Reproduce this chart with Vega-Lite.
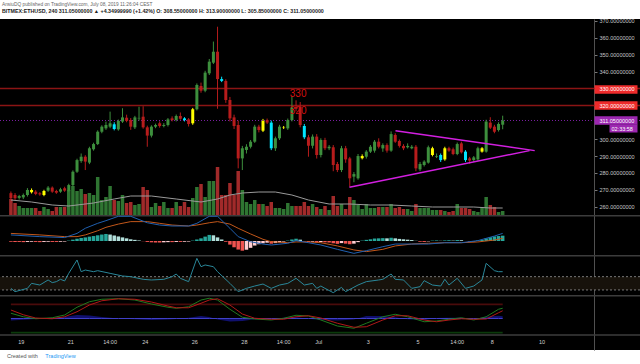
{
"$schema":"https://vega.github.io/schema/vega-lite/v6.json",
"width":640,"height":331,
"autosize":{"type":"none"},
"padding":{"top":19,"bottom":14,"left":0,"right":0},
"background":"#ffffff",
"config":{"view":{"fill":"#000000","stroke":null},"font":"Liberation Sans","axis":{"labelFont":"Liberation Sans","titleFont":"Liberation Sans"}},
"title":{"text":"AnsiuDQ published on TradingView.com, July 08, 2019 11:26:04 CEST","subtitle":"BITMEX:ETHUSD, 240  311.05000000 ▲ +4.34999990 (+1.42%)  O: 308.55000000  H: 313.90000000  L: 305.85000000  C: 311.05000000","anchor":"start","frame":"group","fontSize":4.8,"fontWeight":"normal","color":"#666666","subtitleFontSize":5.3,"subtitleFontWeight":"bold","subtitleColor":"#222222","subtitlePadding":1.5,"offset":5,"dx":2},
"datasets":{
"k":[
{"t":"2019-06-18T14:00","o":268.0,"h":269.0,"l":264.0,"c":265.0,"v":16,"mh":-0.4},
{"t":"2019-06-18T18:00","o":266.9,"h":268.0,"l":264.0,"c":265.0,"v":12,"mh":-0.5},
{"t":"2019-06-18T22:00","o":265.2,"h":267.0,"l":264.2,"c":266.3,"v":9,"mh":-0.5},
{"t":"2019-06-19T02:00","o":265.5,"h":267.8,"l":264.5,"c":266.9,"v":7,"mh":-0.6},
{"t":"2019-06-19T06:00","o":266.9,"h":271.0,"l":266.0,"c":269.9,"v":7,"mh":-0.5},
{"t":"2019-06-19T10:00","o":268.5,"h":270.8,"l":267.8,"c":269.9,"v":7,"mh":-0.4,"f":"Y"},
{"t":"2019-06-19T14:00","o":268.9,"h":269.8,"l":266.8,"c":267.5,"v":7,"mh":-0.5},
{"t":"2019-06-19T18:00","o":267.9,"h":268.6,"l":266.5,"c":267.3,"v":4,"mh":-0.6},
{"t":"2019-06-19T22:00","o":266.9,"h":270.0,"l":266.2,"c":269.3,"v":8,"mh":-0.5,"f":"Y"},
{"t":"2019-06-20T02:00","o":269.5,"h":272.2,"l":268.8,"c":271.3,"v":6,"mh":-0.4},
{"t":"2019-06-20T06:00","o":271.3,"h":272.0,"l":268.2,"c":268.9,"v":4,"mh":-0.5},
{"t":"2019-06-20T10:00","o":269.3,"h":270.0,"l":267.6,"c":268.3,"v":8,"mh":-0.5},
{"t":"2019-06-20T14:00","o":268.9,"h":271.2,"l":268.2,"c":270.3,"v":8,"mh":-0.4},
{"t":"2019-06-20T18:00","o":270.9,"h":271.8,"l":268.8,"c":269.5,"v":8,"mh":-0.3},
{"t":"2019-06-20T22:00","o":269.5,"h":273.6,"l":268.9,"c":272.8,"v":25,"mh":0.2},
{"t":"2019-06-21T02:00","o":272.8,"h":281.5,"l":272.0,"c":280.7,"v":29,"mh":0.7},
{"t":"2019-06-21T06:00","o":280.7,"h":288.4,"l":280.0,"c":287.6,"v":24,"mh":1.2},
{"t":"2019-06-21T10:00","o":287.0,"h":291.5,"l":286.0,"c":289.6,"v":26,"mh":1.6},
{"t":"2019-06-21T14:00","o":289.6,"h":290.5,"l":281.7,"c":286.7,"v":21,"mh":1.9},
{"t":"2019-06-21T18:00","o":286.1,"h":295.5,"l":285.2,"c":294.6,"v":22,"mh":2.3},
{"t":"2019-06-21T22:00","o":294.0,"h":297.9,"l":293.2,"c":297.1,"v":20,"mh":2.6},
{"t":"2019-06-22T02:00","o":297.1,"h":305.2,"l":296.5,"c":304.4,"v":38,"mh":3.0},
{"t":"2019-06-22T06:00","o":304.4,"h":308.2,"l":303.5,"c":307.4,"v":15,"mh":3.4},
{"t":"2019-06-22T10:00","o":306.4,"h":310.4,"l":305.5,"c":308.4,"v":18,"mh":3.7},
{"t":"2019-06-22T14:00","o":307.4,"h":316.3,"l":306.5,"c":309.4,"v":29,"mh":3.4},
{"t":"2019-06-22T18:00","o":308.8,"h":310.0,"l":305.2,"c":306.0,"v":15,"mh":2.9,"f":"C"},
{"t":"2019-06-22T22:00","o":305.8,"h":311.6,"l":305.0,"c":310.8,"v":14,"mh":2.4},
{"t":"2019-06-23T02:00","o":310.4,"h":318.3,"l":309.6,"c":312.9,"v":20,"mh":1.9},
{"t":"2019-06-23T06:00","o":312.7,"h":314.5,"l":310.0,"c":310.8,"v":12,"mh":1.4},
{"t":"2019-06-23T10:00","o":311.3,"h":312.5,"l":305.5,"c":307.4,"v":13,"mh":0.9},
{"t":"2019-06-23T14:00","o":307.0,"h":313.8,"l":306.0,"c":312.9,"v":10,"mh":0.6},
{"t":"2019-06-23T18:00","o":312.3,"h":319.2,"l":311.0,"c":312.6,"v":11,"mh":0.3},
{"t":"2019-06-23T22:00","o":313.3,"h":319.5,"l":306.2,"c":307.0,"v":28,"mh":-0.1},
{"t":"2019-06-24T02:00","o":307.0,"h":308.0,"l":295.5,"c":302.1,"v":25,"mh":-0.5},
{"t":"2019-06-24T06:00","o":302.1,"h":308.2,"l":301.0,"c":307.4,"v":8,"mh":-0.7},
{"t":"2019-06-24T10:00","o":307.4,"h":309.2,"l":306.5,"c":308.4,"v":12,"mh":-0.8},
{"t":"2019-06-24T14:00","o":309.4,"h":310.5,"l":306.8,"c":307.8,"v":9,"mh":-0.8},
{"t":"2019-06-24T18:00","o":307.8,"h":309.5,"l":307.0,"c":308.4,"v":13,"mh":-0.7},
{"t":"2019-06-24T22:00","o":308.4,"h":312.5,"l":307.5,"c":311.7,"v":7,"mh":-0.6},
{"t":"2019-06-25T02:00","o":312.3,"h":313.5,"l":310.5,"c":311.3,"v":7,"mh":-0.6},
{"t":"2019-06-25T06:00","o":311.3,"h":314.6,"l":310.5,"c":313.7,"v":13,"mh":-0.5},
{"t":"2019-06-25T10:00","o":313.7,"h":315.8,"l":311.5,"c":312.1,"v":9,"mh":-0.5},
{"t":"2019-06-25T14:00","o":312.3,"h":313.0,"l":310.5,"c":311.3,"v":13,"mh":-0.4,"f":"C"},
{"t":"2019-06-25T18:00","o":311.7,"h":312.5,"l":307.5,"c":309.0,"v":8,"mh":-0.3},
{"t":"2019-06-25T22:00","o":309.4,"h":318.5,"l":308.5,"c":317.7,"v":17,"mh":0.2,"f":"Y"},
{"t":"2019-06-26T02:00","o":317.7,"h":333.0,"l":317.0,"c":332.1,"v":28,"mh":0.8},
{"t":"2019-06-26T06:00","o":331.5,"h":333.5,"l":327.5,"c":328.7,"v":31,"mh":1.4},
{"t":"2019-06-26T10:00","o":328.7,"h":340.5,"l":327.8,"c":339.4,"v":18,"mh":2.3},
{"t":"2019-06-26T14:00","o":339.0,"h":347.5,"l":338.0,"c":345.9,"v":34,"mh":3.2},
{"t":"2019-06-26T18:00","o":345.3,"h":357.8,"l":344.5,"c":351.8,"v":34,"mh":3.0},
{"t":"2019-06-26T22:00","o":351.8,"h":366.6,"l":318.0,"c":335.6,"v":48,"mh":1.9},
{"t":"2019-06-27T02:00","o":335.6,"h":337.0,"l":333.8,"c":334.5,"v":20,"mh":0.8,"f":"C"},
{"t":"2019-06-27T06:00","o":334.5,"h":335.5,"l":321.5,"c":323.2,"v":20,"mh":-0.4},
{"t":"2019-06-27T10:00","o":323.2,"h":325.0,"l":310.5,"c":312.3,"v":32,"mh":-1.9},
{"t":"2019-06-27T14:00","o":312.9,"h":314.5,"l":306.0,"c":307.8,"v":20,"mh":-3.3},
{"t":"2019-06-27T18:00","o":308.4,"h":311.0,"l":282.7,"c":288.6,"v":44,"mh":-4.5},
{"t":"2019-06-27T22:00","o":288.6,"h":296.0,"l":281.7,"c":294.6,"v":25,"mh":-5.1},
{"t":"2019-06-28T02:00","o":293.6,"h":297.0,"l":291.5,"c":295.5,"v":13,"mh":-4.6},
{"t":"2019-06-28T06:00","o":295.5,"h":299.5,"l":294.5,"c":298.5,"v":11,"mh":-3.6},
{"t":"2019-06-28T10:00","o":298.5,"h":308.5,"l":297.8,"c":307.4,"v":15,"mh":-2.4},
{"t":"2019-06-28T14:00","o":307.4,"h":308.5,"l":304.0,"c":305.4,"v":11,"mh":-1.7},
{"t":"2019-06-28T18:00","o":305.0,"h":312.0,"l":304.2,"c":310.8,"v":11,"mh":-1.2,"f":"Y"},
{"t":"2019-06-28T22:00","o":311.3,"h":312.2,"l":309.0,"c":309.8,"v":9,"mh":-0.9},
{"t":"2019-06-29T02:00","o":309.8,"h":311.0,"l":293.5,"c":294.6,"v":13,"mh":-1.4,"f":"C"},
{"t":"2019-06-29T06:00","o":294.6,"h":301.5,"l":293.0,"c":300.5,"v":7,"mh":-1.1},
{"t":"2019-06-29T10:00","o":300.5,"h":308.5,"l":299.5,"c":307.4,"v":7,"mh":-0.7},
{"t":"2019-06-29T14:00","o":306.8,"h":307.8,"l":306.0,"c":307.0,"v":6,"mh":-0.3,"f":"Y"},
{"t":"2019-06-29T18:00","o":306.4,"h":312.2,"l":305.5,"c":311.3,"v":12,"mh":0.2},
{"t":"2019-06-29T22:00","o":311.3,"h":325.2,"l":310.5,"c":318.7,"v":9,"mh":0.8},
{"t":"2019-06-30T02:00","o":319.0,"h":323.0,"l":316.5,"c":318.0,"v":9,"mh":1.2},
{"t":"2019-06-30T06:00","o":319.3,"h":322.0,"l":307.0,"c":308.4,"v":9,"mh":0.7},
{"t":"2019-06-30T10:00","o":307.8,"h":309.0,"l":300.0,"c":301.1,"v":13,"mh":-0.2,"f":"C"},
{"t":"2019-06-30T14:00","o":301.1,"h":302.5,"l":289.6,"c":296.1,"v":9,"mh":-0.5},
{"t":"2019-06-30T18:00","o":296.1,"h":302.8,"l":294.5,"c":301.5,"v":11,"mh":-0.4},
{"t":"2019-06-30T22:00","o":301.5,"h":303.0,"l":288.5,"c":290.6,"v":8,"mh":-0.8},
{"t":"2019-07-01T02:00","o":290.6,"h":300.5,"l":289.2,"c":299.5,"v":6,"mh":-0.6},
{"t":"2019-07-01T06:00","o":299.5,"h":300.8,"l":293.5,"c":294.6,"v":9,"mh":-0.7},
{"t":"2019-07-01T10:00","o":294.6,"h":296.5,"l":293.5,"c":295.5,"v":5,"mh":-0.8},
{"t":"2019-07-01T14:00","o":295.2,"h":296.5,"l":281.0,"c":284.7,"v":19,"mh":-1.2},
{"t":"2019-07-01T18:00","o":285.3,"h":286.5,"l":280.5,"c":281.7,"v":9,"mh":-1.5},
{"t":"2019-07-01T22:00","o":281.7,"h":296.0,"l":280.5,"c":294.6,"v":11,"mh":-1.1},
{"t":"2019-07-02T02:00","o":294.6,"h":296.0,"l":286.0,"c":288.0,"v":6,"mh":-1.4},
{"t":"2019-07-02T06:00","o":288.6,"h":289.5,"l":271.8,"c":276.8,"v":18,"mh":-1.7},
{"t":"2019-07-02T10:00","o":277.8,"h":280.5,"l":274.5,"c":279.3,"v":15,"mh":-1.4},
{"t":"2019-07-02T14:00","o":276.8,"h":291.2,"l":276.0,"c":290.0,"v":10,"mh":-0.6},
{"t":"2019-07-02T18:00","o":288.7,"h":291.0,"l":288.0,"c":290.0,"v":6,"mh":0.2,"f":"Y"},
{"t":"2019-07-02T22:00","o":289.6,"h":293.5,"l":288.5,"c":292.6,"v":11,"mh":0.6},
{"t":"2019-07-03T02:00","o":292.6,"h":296.5,"l":291.8,"c":295.5,"v":7,"mh":0.9},
{"t":"2019-07-03T06:00","o":293.2,"h":299.5,"l":292.0,"c":298.5,"v":7,"mh":1.3},
{"t":"2019-07-03T10:00","o":298.5,"h":300.5,"l":294.5,"c":295.5,"v":8,"mh":1.4},
{"t":"2019-07-03T14:00","o":294.5,"h":297.5,"l":292.5,"c":296.5,"v":8,"mh":1.5},
{"t":"2019-07-03T18:00","o":296.5,"h":297.5,"l":292.0,"c":293.2,"v":8,"mh":1.4},
{"t":"2019-07-03T22:00","o":293.2,"h":304.6,"l":292.5,"c":303.0,"v":11,"mh":1.7},
{"t":"2019-07-04T02:00","o":302.5,"h":303.5,"l":297.8,"c":298.5,"v":7,"mh":1.4},
{"t":"2019-07-04T06:00","o":298.9,"h":299.8,"l":295.0,"c":296.0,"v":8,"mh":1.1},
{"t":"2019-07-04T10:00","o":296.0,"h":297.0,"l":293.5,"c":294.6,"v":6,"mh":0.9},
{"t":"2019-07-04T14:00","o":295.2,"h":297.5,"l":294.5,"c":296.0,"v":6,"mh":0.7},
{"t":"2019-07-04T18:00","o":294.6,"h":296.5,"l":294.0,"c":295.5,"v":4,"mh":0.5},
{"t":"2019-07-04T22:00","o":295.5,"h":296.5,"l":281.0,"c":282.7,"v":11,"mh":0.1},
{"t":"2019-07-05T02:00","o":282.1,"h":286.5,"l":281.0,"c":285.3,"v":7,"mh":-0.4},
{"t":"2019-07-05T06:00","o":284.7,"h":287.5,"l":283.8,"c":286.7,"v":7,"mh":-0.5},
{"t":"2019-07-05T10:00","o":286.1,"h":296.2,"l":285.5,"c":295.2,"v":7,"mh":-0.2},
{"t":"2019-07-05T14:00","o":290.6,"h":295.5,"l":289.8,"c":294.6,"v":5,"mh":0.2,"f":"Y"},
{"t":"2019-07-05T18:00","o":289.6,"h":291.5,"l":288.8,"c":290.0,"v":5,"mh":0.3},
{"t":"2019-07-05T22:00","o":290.6,"h":291.5,"l":286.5,"c":287.6,"v":5,"mh":0.1,"f":"C"},
{"t":"2019-07-06T02:00","o":288.0,"h":295.5,"l":287.2,"c":294.6,"v":4,"mh":0.3,"f":"Y"},
{"t":"2019-07-06T06:00","o":294.6,"h":295.5,"l":292.5,"c":293.2,"v":3,"mh":0.4},
{"t":"2019-07-06T10:00","o":294.0,"h":295.0,"l":290.5,"c":291.2,"v":4,"mh":0.2},
{"t":"2019-07-06T14:00","o":291.2,"h":298.0,"l":290.5,"c":297.1,"v":11,"mh":0.5},
{"t":"2019-07-06T18:00","o":297.5,"h":298.5,"l":291.5,"c":292.2,"v":7,"mh":0.4},
{"t":"2019-07-06T22:00","o":292.6,"h":293.5,"l":286.5,"c":287.6,"v":7,"mh":0.0,"f":"C"},
{"t":"2019-07-07T02:00","o":288.6,"h":289.5,"l":285.5,"c":287.3,"v":6,"mh":-0.3},
{"t":"2019-07-07T06:00","o":287.6,"h":290.0,"l":286.5,"c":289.2,"v":4,"mh":-0.2},
{"t":"2019-07-07T10:00","o":288.0,"h":295.5,"l":287.2,"c":294.6,"v":3,"mh":0.3},
{"t":"2019-07-07T14:00","o":292.6,"h":295.3,"l":292.0,"c":294.6,"v":8,"mh":0.6,"f":"Y"},
{"t":"2019-07-07T18:00","o":292.6,"h":311.5,"l":292.0,"c":310.4,"v":18,"mh":1.4},
{"t":"2019-07-07T22:00","o":309.8,"h":313.0,"l":306.0,"c":306.8,"v":10,"mh":2.0},
{"t":"2019-07-08T02:00","o":307.4,"h":308.5,"l":303.5,"c":304.4,"v":8,"mh":2.4},
{"t":"2019-07-08T06:00","o":305.4,"h":310.0,"l":304.5,"c":309.0,"v":3,"mh":2.6},
{"t":"2019-07-08T10:00","o":308.55,"h":313.9,"l":305.85,"c":311.05,"v":4,"mh":2.8}
],
"vma":[{"t":"2019-06-18T14:00","v":15},{"t":"2019-06-19T10:00","v":13},{"t":"2019-06-20T06:00","v":10},{"t":"2019-06-20T22:00","v":9},{"t":"2019-06-21T22:00","v":12},{"t":"2019-06-22T18:00","v":16},{"t":"2019-06-23T10:00","v":19},{"t":"2019-06-24T06:00","v":19},{"t":"2019-06-25T06:00","v":16},{"t":"2019-06-26T06:00","v":13},{"t":"2019-06-26T22:00","v":16},{"t":"2019-06-27T10:00","v":20},{"t":"2019-06-27T22:00","v":22},{"t":"2019-06-28T14:00","v":23},{"t":"2019-06-29T06:00","v":23},{"t":"2019-06-29T22:00","v":20},{"t":"2019-06-30T14:00","v":15},{"t":"2019-07-01T10:00","v":11},{"t":"2019-07-02T06:00","v":11},{"t":"2019-07-03T02:00","v":10},{"t":"2019-07-03T22:00","v":10},{"t":"2019-07-04T18:00","v":9},{"t":"2019-07-05T14:00","v":8},{"t":"2019-07-06T10:00","v":8},{"t":"2019-07-07T06:00","v":8},{"t":"2019-07-07T22:00","v":7},{"t":"2019-07-08T10:00","v":7}],
"macd":[{"t":"2019-06-18T14:00","m":3.2,"s":4.0},{"t":"2019-06-19T18:00","m":2.3,"s":3.2},{"t":"2019-06-20T18:00","m":1.8,"s":2.3},{"t":"2019-06-21T06:00","m":4.0,"s":2.3},{"t":"2019-06-21T14:00","m":6.7,"s":3.2},{"t":"2019-06-22T02:00","m":9.3,"s":5.4},{"t":"2019-06-22T10:00","m":10.7,"s":7.2},{"t":"2019-06-22T22:00","m":13.0,"s":8.9},{"t":"2019-06-23T10:00","m":13.0,"s":10.2},{"t":"2019-06-24T02:00","m":9.6,"s":10.2},{"t":"2019-06-24T14:00","m":8.4,"s":9.3},{"t":"2019-06-25T02:00","m":7.9,"s":8.4},{"t":"2019-06-25T18:00","m":7.9,"s":7.9},{"t":"2019-06-26T02:00","m":9.3,"s":8.4},{"t":"2019-06-26T14:00","m":13.0,"s":9.6},{"t":"2019-06-26T22:00","m":13.0,"s":10.2},{"t":"2019-06-27T10:00","m":6.7,"s":8.9},{"t":"2019-06-27T18:00","m":2.3,"s":6.7},{"t":"2019-06-28T06:00","m":-0.4,"s":3.7},{"t":"2019-06-28T18:00","m":-1.6,"s":0.9},{"t":"2019-06-29T02:00","m":-2.1,"s":-0.4},{"t":"2019-06-29T18:00","m":-1.2,"s":-0.9},{"t":"2019-06-30T02:00","m":0.2,"s":-0.5},{"t":"2019-06-30T14:00","m":-0.9,"s":-0.5},{"t":"2019-07-01T02:00","m":-2.1,"s":-0.9},{"t":"2019-07-01T18:00","m":-4.4,"s":-2.6},{"t":"2019-07-02T10:00","m":-6.5,"s":-4.7},{"t":"2019-07-02T22:00","m":-5.1,"s":-5.6},{"t":"2019-07-03T14:00","m":-3.0,"s":-4.4},{"t":"2019-07-04T02:00","m":-1.6,"s":-2.6},{"t":"2019-07-04T18:00","m":-1.6,"s":-1.6},{"t":"2019-07-05T10:00","m":-1.6,"s":-1.2},{"t":"2019-07-06T02:00","m":-0.9,"s":-0.9},{"t":"2019-07-06T18:00","m":-0.9,"s":-0.9},{"t":"2019-07-07T10:00","m":0.2,"s":-0.5},{"t":"2019-07-08T02:00","m":2.6,"s":0.5},{"t":"2019-07-08T10:00","m":4.0,"s":1.4}],
"cci":[{"t":"2019-06-18T14:00","v":-76},{"t":"2019-06-18T18:00","v":-126},{"t":"2019-06-19T06:00","v":-76},{"t":"2019-06-19T10:00","v":-1},{"t":"2019-06-19T18:00","v":-26},{"t":"2019-06-20T02:00","v":50},{"t":"2019-06-20T06:00","v":10},{"t":"2019-06-20T10:00","v":25},{"t":"2019-06-20T14:00","v":60},{"t":"2019-06-20T18:00","v":35},{"t":"2019-06-20T22:00","v":150},{"t":"2019-06-21T06:00","v":351},{"t":"2019-06-21T10:00","v":175},{"t":"2019-06-21T14:00","v":200},{"t":"2019-06-21T22:00","v":175},{"t":"2019-06-22T02:00","v":190},{"t":"2019-06-22T14:00","v":150},{"t":"2019-06-23T02:00","v":110},{"t":"2019-06-23T10:00","v":100},{"t":"2019-06-23T22:00","v":60},{"t":"2019-06-24T06:00","v":50},{"t":"2019-06-24T18:00","v":60},{"t":"2019-06-25T02:00","v":100},{"t":"2019-06-25T06:00","v":140},{"t":"2019-06-25T10:00","v":75},{"t":"2019-06-25T18:00","v":25},{"t":"2019-06-26T02:00","v":376},{"t":"2019-06-26T06:00","v":250},{"t":"2019-06-26T10:00","v":276},{"t":"2019-06-26T18:00","v":250},{"t":"2019-06-26T22:00","v":175},{"t":"2019-06-27T10:00","v":-1},{"t":"2019-06-27T18:00","v":-126},{"t":"2019-06-28T02:00","v":-76},{"t":"2019-06-28T10:00","v":-41},{"t":"2019-06-28T18:00","v":-11},{"t":"2019-06-29T02:00","v":-76},{"t":"2019-06-29T10:00","v":-26},{"t":"2019-06-29T18:00","v":-1},{"t":"2019-06-30T02:00","v":75},{"t":"2019-06-30T10:00","v":-26},{"t":"2019-06-30T18:00","v":-1},{"t":"2019-06-30T22:00","v":-76},{"t":"2019-07-01T02:00","v":-41},{"t":"2019-07-01T06:00","v":-76},{"t":"2019-07-01T14:00","v":-141},{"t":"2019-07-01T22:00","v":-61},{"t":"2019-07-02T02:00","v":-126},{"t":"2019-07-02T14:00","v":-26},{"t":"2019-07-02T22:00","v":25},{"t":"2019-07-03T10:00","v":50},{"t":"2019-07-03T14:00","v":60},{"t":"2019-07-03T22:00","v":140},{"t":"2019-07-04T02:00","v":60},{"t":"2019-07-04T10:00","v":50},{"t":"2019-07-04T18:00","v":-76},{"t":"2019-07-05T02:00","v":-51},{"t":"2019-07-05T06:00","v":40},{"t":"2019-07-05T14:00","v":-26},{"t":"2019-07-05T22:00","v":-41},{"t":"2019-07-06T02:00","v":60},{"t":"2019-07-06T06:00","v":-26},{"t":"2019-07-06T14:00","v":75},{"t":"2019-07-06T22:00","v":-76},{"t":"2019-07-07T06:00","v":-41},{"t":"2019-07-07T14:00","v":50},{"t":"2019-07-07T18:00","v":301},{"t":"2019-07-08T02:00","v":190},{"t":"2019-07-08T06:00","v":175},{"t":"2019-07-08T10:00","v":175}],
"wt":[{"t":"2019-06-18T14:00","w1":21,"w2":34,"d":-8},{"t":"2019-06-19T02:00","w1":7,"w2":15,"d":-5},{"t":"2019-06-19T14:00","w1":-1,"w2":2,"d":-2},{"t":"2019-06-20T06:00","w1":3,"w2":-1,"d":2},{"t":"2019-06-20T18:00","w1":14,"w2":7,"d":6},{"t":"2019-06-21T06:00","w1":45,"w2":27,"d":14},{"t":"2019-06-21T18:00","w1":67,"w2":54,"d":12},{"t":"2019-06-22T06:00","w1":77,"w2":71,"d":6},{"t":"2019-06-22T22:00","w1":79,"w2":79,"d":0},{"t":"2019-06-23T14:00","w1":74,"w2":77,"d":-3},{"t":"2019-06-24T06:00","w1":58,"w2":66,"d":-6},{"t":"2019-06-24T22:00","w1":45,"w2":50,"d":-4},{"t":"2019-06-25T06:00","w1":41,"w2":43,"d":-2},{"t":"2019-06-25T18:00","w1":47,"w2":43,"d":3},{"t":"2019-06-26T06:00","w1":74,"w2":61,"d":10},{"t":"2019-06-26T14:00","w1":81,"w2":74,"d":6},{"t":"2019-06-26T22:00","w1":74,"w2":79,"d":-4},{"t":"2019-06-27T10:00","w1":37,"w2":54,"d":-12},{"t":"2019-06-27T22:00","w1":5,"w2":18,"d":-10},{"t":"2019-06-28T10:00","w1":-2,"w2":1,"d":-3},{"t":"2019-06-29T02:00","w1":-6,"w2":-3,"d":-3},{"t":"2019-06-29T14:00","w1":1,"w2":-3,"d":3},{"t":"2019-06-30T02:00","w1":13,"w2":7,"d":5},{"t":"2019-06-30T14:00","w1":10,"w2":11,"d":-1},{"t":"2019-07-01T02:00","w1":-6,"w2":2,"d":-6},{"t":"2019-07-01T18:00","w1":-30,"w2":-19,"d":-8},{"t":"2019-07-02T10:00","w1":-39,"w2":-35,"d":-4},{"t":"2019-07-02T22:00","w1":-19,"w2":-33,"d":10},{"t":"2019-07-03T14:00","w1":7,"w2":-6,"d":10},{"t":"2019-07-04T02:00","w1":17,"w2":11,"d":5},{"t":"2019-07-04T14:00","w1":7,"w2":11,"d":-3},{"t":"2019-07-05T06:00","w1":-13,"w2":-6,"d":-6},{"t":"2019-07-05T18:00","w1":-10,"w2":-13,"d":2},{"t":"2019-07-06T06:00","w1":-3,"w2":-6,"d":3},{"t":"2019-07-06T18:00","w1":3,"w2":-1,"d":3},{"t":"2019-07-07T06:00","w1":-6,"w2":-3,"d":-2},{"t":"2019-07-07T18:00","w1":7,"w2":-2,"d":7},{"t":"2019-07-08T06:00","w1":37,"w2":23,"d":11},{"t":"2019-07-08T10:00","w1":41,"w2":31,"d":9}],
"lv":[{"p":330,"k":"r"},{"p":320,"k":"r"},{"p":311.05,"k":"l"}],
"lab":[{"p":330,"lab":"330","t":"2019-06-30T04:00"},{"p":320,"lab":"320","t":"2019-06-30T04:00"}],
"tri":[{"t":"2019-07-04T02:15","p":305.0,"s":"u"},{"t":"2019-07-09T17:00","p":293.2,"s":"u"},{"t":"2019-07-02T05:40","p":271.5,"s":"d"},{"t":"2019-07-09T12:00","p":293.2,"s":"d"}],
"ticks":[{"t":"2019-06-19T00:00","lab":"19"},{"t":"2019-06-21T00:00","lab":"21"},{"t":"2019-06-22T14:00","lab":"14:00"},{"t":"2019-06-24T00:00","lab":"24"},{"t":"2019-06-26T00:00","lab":"26"},{"t":"2019-06-28T00:00","lab":"28"},{"t":"2019-06-29T14:00","lab":"14:00"},{"t":"2019-07-01T00:00","lab":"Jul"},{"t":"2019-07-03T00:00","lab":"3"},{"t":"2019-07-05T00:00","lab":"5"},{"t":"2019-07-06T14:00","lab":"14:00"},{"t":"2019-07-08T00:00","lab":"8"},{"t":"2019-07-10T00:00","lab":"10"}],
"foot":[{"t":"2019-06-18T10:10","w":-150,"lab":"Created with","k":"a"},{"t":"2019-06-19T23:20","w":-150,"lab":"TradingView","k":"b"}]
},
"layer":[
{"layer":[
 {"data":{"name":"k"},"mark":{"type":"bar","width":3.5},"encoding":{"x":{"field":"t","type":"temporal","scale":{"domain":[{"year":2019,"month":"jun","date":18,"hours":8,"minutes":17},{"year":2019,"month":"jul","date":13,"hours":18,"minutes":4}],"nice":false},"axis":null},"y":{"field":"v","type":"quantitative","scale":{"domain":[-135,196],"nice":false,"zero":false},"axis":null},"color":{"condition":{"test":"datum.c>=datum.o","value":"#2f7532"},"value":"#a12a2a"}}},
 {"data":{"name":"vma"},"mark":{"type":"line","color":"#9a9a9a","strokeWidth":1},"encoding":{"x":{"field":"t","type":"temporal","scale":{"domain":[{"year":2019,"month":"jun","date":18,"hours":8,"minutes":17},{"year":2019,"month":"jul","date":13,"hours":18,"minutes":4}],"nice":false},"axis":null},"y":{"field":"v","type":"quantitative","scale":{"domain":[-135,196],"nice":false,"zero":false},"axis":null}}}
]},
{"layer":[
 {"data":{"name":"lv"},"mark":{"type":"rule"},"encoding":{"y":{"field":"p","type":"quantitative","scale":{"domain":[175.09,371.18],"nice":false,"zero":false},"axis":{"orient":"right","offset":-46,"values":[330,320,311.05],"format":".8f","ticks":true,"tickSize":43,"tickWidth":8.5,"tickCap":"butt","tickColor":{"condition":{"test":"datum.value<315","value":"#9c27b0"},"value":"#ee2b2b"},"labelPadding":-38,"labelColor":"#ffffff","labelFontSize":5.5,"labelBaseline":"middle","domain":false,"grid":false,"labelOverlap":false,"title":null,"zindex":1}},"color":{"condition":{"test":"datum.k==='l'","value":"#7b1fa2"},"value":"#8b1414"},"strokeDash":{"condition":{"test":"datum.k==='l'","value":[1,2]},"value":[1,0]},"strokeWidth":{"condition":{"test":"datum.k==='l'","value":1},"value":1.5}}},
 {"data":{"name":"k"},"mark":{"type":"rule","strokeWidth":1},"encoding":{"x":{"field":"t","type":"temporal","scale":{"domain":[{"year":2019,"month":"jun","date":18,"hours":8,"minutes":17},{"year":2019,"month":"jul","date":13,"hours":18,"minutes":4}],"nice":false},"axis":null},"y":{"field":"l","type":"quantitative","scale":{"domain":[175.09,371.18],"nice":false,"zero":false},"axis":null},"y2":{"field":"h"},"color":{"condition":[{"test":"datum.f==='Y'","value":"#ffff00"},{"test":"datum.f==='C'","value":"#00e5ff"},{"test":"datum.c>=datum.o","value":"#3d8f3d"}],"value":"#b71c1c"}}},
 {"data":{"name":"k"},"mark":{"type":"bar","width":3},"encoding":{"x":{"field":"t","type":"temporal","scale":{"domain":[{"year":2019,"month":"jun","date":18,"hours":8,"minutes":17},{"year":2019,"month":"jul","date":13,"hours":18,"minutes":4}],"nice":false},"axis":null},"y":{"field":"o","type":"quantitative","scale":{"domain":[175.09,371.18],"nice":false,"zero":false},"axis":{"orient":"right","offset":-46,"values":[260,270,280,290,300,340,350,360,370],"format":".8f","ticks":true,"tickSize":3,"tickColor":"#777777","labelPadding":2,"labelFontSize":5.5,"labelColor":"#c8c8c8","labelBaseline":"middle","domain":true,"domainColor":"#505050","grid":false,"labelOverlap":false,"title":null}},"y2":{"field":"c"},"color":{"condition":[{"test":"datum.f==='Y'","value":"#ffff00"},{"test":"datum.f==='C'","value":"#00e5ff"},{"test":"datum.c>=datum.o","value":"#3d8f3d"}],"value":"#b71c1c"}}},
 {"data":{"name":"tri"},"mark":{"type":"line","color":"#d21fe0","strokeWidth":1.5},"encoding":{"x":{"field":"t","type":"temporal","scale":{"domain":[{"year":2019,"month":"jun","date":18,"hours":8,"minutes":17},{"year":2019,"month":"jul","date":13,"hours":18,"minutes":4}],"nice":false},"axis":null},"y":{"field":"p","type":"quantitative","scale":{"domain":[175.09,371.18],"nice":false,"zero":false},"axis":{"orient":"right","offset":-31,"values":[306.6],"labelExpr":"'02:33:58'","ticks":true,"tickSize":28,"tickWidth":8,"tickCap":"butt","tickColor":"#9c27b0","labelPadding":-26,"labelColor":"#ffffff","labelFontSize":5.5,"labelBaseline":"middle","domain":false,"grid":false,"title":null,"zindex":1}},"detail":{"field":"s"}}},
 {"data":{"name":"lab"},"mark":{"type":"text","color":"#d40f0f","fontSize":10,"baseline":"top","align":"center","dy":0.5},"encoding":{"x":{"field":"t","type":"temporal","scale":{"domain":[{"year":2019,"month":"jun","date":18,"hours":8,"minutes":17},{"year":2019,"month":"jul","date":13,"hours":18,"minutes":4}],"nice":false},"axis":null},"y":{"field":"p","type":"quantitative","scale":{"domain":[175.09,371.18],"nice":false,"zero":false},"axis":null},"text":{"field":"lab"}}},
 {"data":{"values":[{}]},"mark":{"type":"rule","color":"#3c3c3c","strokeWidth":1.5},"encoding":{"y":{"datum":254.65,"type":"quantitative","scale":{"domain":[175.09,371.18],"nice":false,"zero":false},"axis":null}}}
],"resolve":{"axis":{"y":"independent"}}},
{"layer":[
 {"data":{"name":"k"},"transform":[{"window":[{"op":"lag","field":"mh","as":"pm"}],"sort":[{"field":"t"}]}],"mark":{"type":"bar","width":3.5},"encoding":{"x":{"field":"t","type":"temporal","scale":{"domain":[{"year":2019,"month":"jun","date":18,"hours":8,"minutes":17},{"year":2019,"month":"jul","date":13,"hours":18,"minutes":4}],"nice":false},"axis":null},"y":{"field":"mh","type":"quantitative","scale":{"domain":[-57.37,116.84],"nice":false,"zero":false},"axis":{"orient":"right","offset":-46,"values":[0,10],"format":".8f","ticks":true,"tickSize":3,"tickColor":"#777777","labelPadding":2,"labelFontSize":5.5,"labelColor":"#c8c8c8","labelBaseline":"middle","domain":false,"grid":false,"labelOverlap":false,"title":null}},"color":{"condition":[{"test":"datum.mh>=0 && datum.mh>=datum.pm","value":"#26a69a"},{"test":"datum.mh>=0","value":"#b2dfdb"},{"test":"datum.mh<=datum.pm","value":"#ef5350"}],"value":"#ffcdd2"}}},
 {"data":{"name":"macd"},"mark":{"type":"line","color":"#c2571a","strokeWidth":1},"encoding":{"x":{"field":"t","type":"temporal","scale":{"domain":[{"year":2019,"month":"jun","date":18,"hours":8,"minutes":17},{"year":2019,"month":"jul","date":13,"hours":18,"minutes":4}],"nice":false},"axis":null},"y":{"field":"s","type":"quantitative","scale":{"domain":[-57.37,116.84],"nice":false,"zero":false},"axis":null}}},
 {"data":{"name":"macd"},"mark":{"type":"line","color":"#2060b0","strokeWidth":1},"encoding":{"x":{"field":"t","type":"temporal","scale":{"domain":[{"year":2019,"month":"jun","date":18,"hours":8,"minutes":17},{"year":2019,"month":"jul","date":13,"hours":18,"minutes":4}],"nice":false},"axis":null},"y":{"field":"m","type":"quantitative","scale":{"domain":[-57.37,116.84],"nice":false,"zero":false},"axis":null}}},
 {"data":{"values":[{}]},"mark":{"type":"rule","color":"#3c3c3c","strokeWidth":1.5},"encoding":{"y":{"datum":-7.74,"type":"quantitative","scale":{"domain":[-57.37,116.84],"nice":false,"zero":false},"axis":null}}}
]},
{"layer":[
 {"data":{"values":[{}]},"mark":{"type":"rect","color":"#17120b"},"encoding":{"y":{"datum":-100,"type":"quantitative","scale":{"domain":[-1004.5,3980.4],"nice":false,"zero":false},"axis":{"orient":"right","offset":-46,"values":[0,250],"format":".2f","ticks":true,"tickSize":3,"tickColor":"#777777","labelPadding":2,"labelFontSize":5.5,"labelColor":"#c8c8c8","labelBaseline":"middle","domain":false,"grid":false,"labelOverlap":false,"title":null}},"y2":{"datum":100}}},
 {"data":{"values":[{"v":100},{"v":-100}]},"mark":{"type":"rule","color":"#7a7a7a","strokeDash":[2,2],"strokeWidth":1},"encoding":{"y":{"field":"v","type":"quantitative","scale":{"domain":[-1004.5,3980.4],"nice":false,"zero":false},"axis":null}}},
 {"data":{"name":"cci"},"mark":{"type":"line","color":"#2a8799","strokeWidth":1},"encoding":{"x":{"field":"t","type":"temporal","scale":{"domain":[{"year":2019,"month":"jun","date":18,"hours":8,"minutes":17},{"year":2019,"month":"jul","date":13,"hours":18,"minutes":4}],"nice":false},"axis":null},"y":{"field":"v","type":"quantitative","scale":{"domain":[-1004.5,3980.4],"nice":false,"zero":false},"axis":null}}},
 {"data":{"values":[{}]},"mark":{"type":"rule","color":"#3c3c3c","strokeWidth":1.5},"encoding":{"y":{"datum":-186.7,"type":"quantitative","scale":{"domain":[-1004.5,3980.4],"nice":false,"zero":false},"axis":null}}}
]},
{"layer":[
 {"data":{"name":"wt"},"mark":{"type":"area","color":"#4a0b0b"},"encoding":{"x":{"field":"t","type":"temporal","scale":{"domain":[{"year":2019,"month":"jun","date":18,"hours":8,"minutes":17},{"year":2019,"month":"jul","date":13,"hours":18,"minutes":4}],"nice":false},"axis":null},"y":{"datum":53,"type":"quantitative","scale":{"domain":[-126,1198],"nice":false,"zero":false},"axis":{"orient":"right","offset":-46,"values":[0],"format":".8f","ticks":true,"tickSize":3,"tickColor":"#777777","labelPadding":2,"labelFontSize":5.5,"labelColor":"#c8c8c8","labelBaseline":"middle","domain":false,"grid":false,"title":null}},"y2":{"datum":60}}},
 {"data":{"name":"wt"},"mark":{"type":"area","color":"#0b3a0b"},"encoding":{"x":{"field":"t","type":"temporal","scale":{"domain":[{"year":2019,"month":"jun","date":18,"hours":8,"minutes":17},{"year":2019,"month":"jul","date":13,"hours":18,"minutes":4}],"nice":false},"axis":null},"y":{"datum":-53,"type":"quantitative","scale":{"domain":[-126,1198],"nice":false,"zero":false},"axis":null},"y2":{"datum":-60}}},
 {"data":{"name":"wt"},"mark":{"type":"area","color":"#12127a","opacity":0.9},"encoding":{"x":{"field":"t","type":"temporal","scale":{"domain":[{"year":2019,"month":"jun","date":18,"hours":8,"minutes":17},{"year":2019,"month":"jul","date":13,"hours":18,"minutes":4}],"nice":false},"axis":null},"y":{"field":"d","type":"quantitative","scale":{"domain":[-126,1198],"nice":false,"zero":false},"axis":null},"y2":{"datum":0}}},
 {"data":{"name":"wt"},"mark":{"type":"line","color":"#4040c8","strokeWidth":1},"encoding":{"x":{"field":"t","type":"temporal","scale":{"domain":[{"year":2019,"month":"jun","date":18,"hours":8,"minutes":17},{"year":2019,"month":"jul","date":13,"hours":18,"minutes":4}],"nice":false},"axis":null},"y":{"datum":0,"type":"quantitative","scale":{"domain":[-126,1198],"nice":false,"zero":false},"axis":null}}},
 {"data":{"name":"wt"},"mark":{"type":"line","color":"#1f7a1f","strokeWidth":1},"encoding":{"x":{"field":"t","type":"temporal","scale":{"domain":[{"year":2019,"month":"jun","date":18,"hours":8,"minutes":17},{"year":2019,"month":"jul","date":13,"hours":18,"minutes":4}],"nice":false},"axis":null},"y":{"field":"w1","type":"quantitative","scale":{"domain":[-126,1198],"nice":false,"zero":false},"axis":null}}},
 {"data":{"name":"wt"},"mark":{"type":"line","color":"#b01818","strokeWidth":1},"encoding":{"x":{"field":"t","type":"temporal","scale":{"domain":[{"year":2019,"month":"jun","date":18,"hours":8,"minutes":17},{"year":2019,"month":"jul","date":13,"hours":18,"minutes":4}],"nice":false},"axis":null},"y":{"field":"w2","type":"quantitative","scale":{"domain":[-126,1198],"nice":false,"zero":false},"axis":null}}},
 {"data":{"values":[{}]},"mark":{"type":"rule","color":"#3c3c3c","strokeWidth":1.5},"encoding":{"y":{"datum":-66,"type":"quantitative","scale":{"domain":[-126,1198],"nice":false,"zero":false},"axis":null}}},
 {"data":{"name":"ticks"},"mark":{"type":"text","color":"#d0d0d0","fontSize":5.5,"align":"center","baseline":"middle","dy":7},"encoding":{"x":{"field":"t","type":"temporal","scale":{"domain":[{"year":2019,"month":"jun","date":18,"hours":8,"minutes":17},{"year":2019,"month":"jul","date":13,"hours":18,"minutes":4}],"nice":false},"axis":null},"y":{"datum":-66,"type":"quantitative","scale":{"domain":[-126,1198],"nice":false,"zero":false},"axis":null},"text":{"field":"lab"}}},
 {"data":{"name":"foot"},"mark":{"type":"text","fontSize":5.5,"align":"left","baseline":"middle"},"encoding":{"x":{"field":"t","type":"temporal","scale":{"domain":[{"year":2019,"month":"jun","date":18,"hours":8,"minutes":17},{"year":2019,"month":"jul","date":13,"hours":18,"minutes":4}],"nice":false},"axis":null},"y":{"field":"w","type":"quantitative","scale":{"domain":[-126,1198],"nice":false,"zero":false},"axis":null},"text":{"field":"lab"},"color":{"condition":{"test":"datum.k==='b'","value":"#2196f3"},"value":"#555555"}}}
]}
],
"resolve":{"scale":{"y":"independent"},"axis":{"y":"independent"}}
}
